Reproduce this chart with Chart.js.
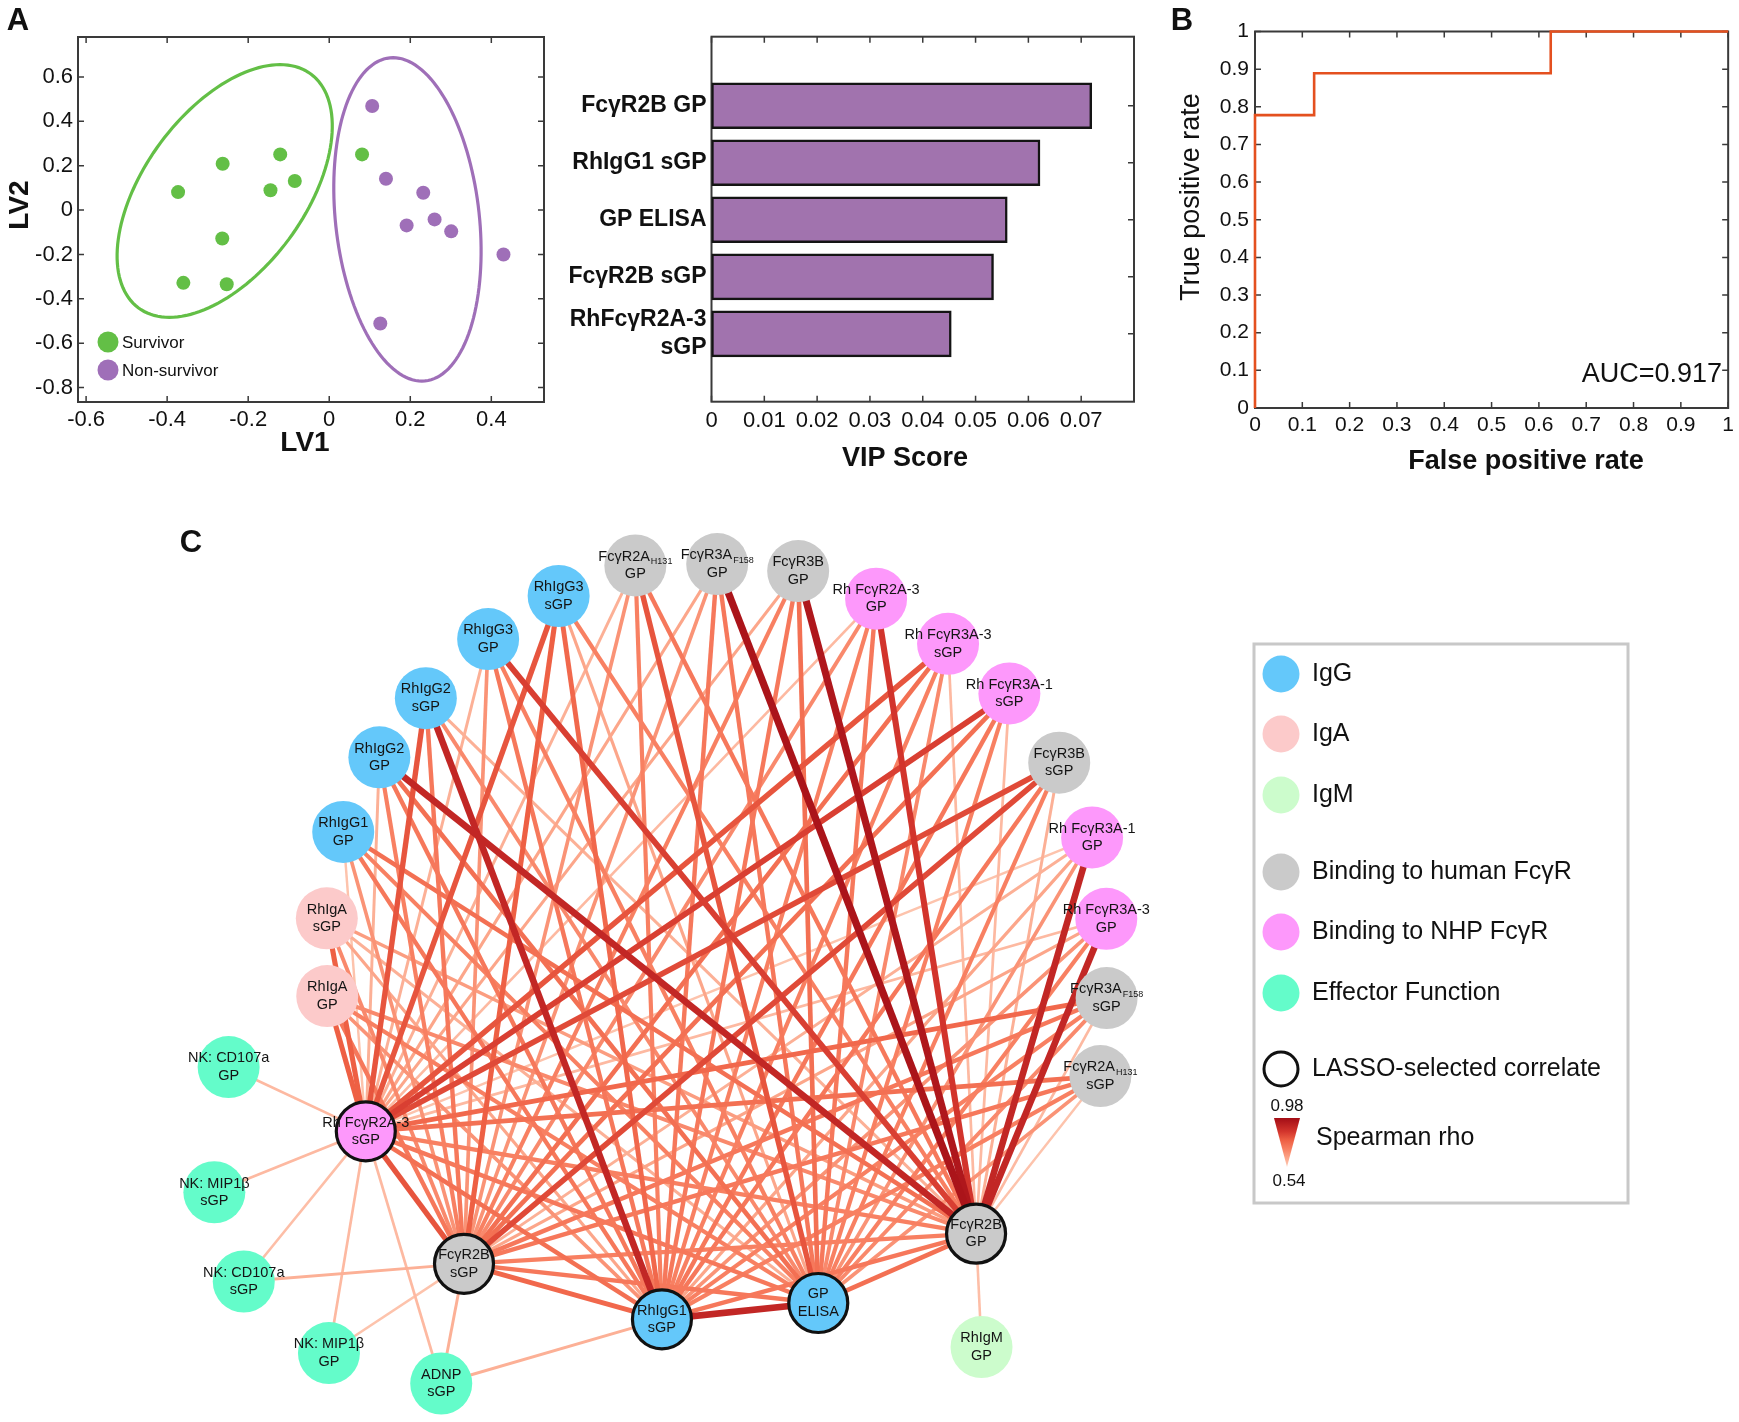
<!DOCTYPE html>
<html>
<head>
<meta charset="utf-8">
<title>PLS-DA, VIP scores, ROC and correlation network</title>
<script src="https://cdn.jsdelivr.net/npm/chart.js@4.4.1/dist/chart.umd.min.js"></script>
<style>
  html, body { margin: 0; padding: 0; background: #fff; }
  #page { position: relative; width: 1739px; height: 1422px; overflow: hidden; background: #fff; }
  canvas { position: absolute; }
</style>
</head>
<body>
<div id="page">
  <canvas id="network" width="1739" height="952" style="left:0;top:470px"></canvas>
  <canvas id="scatter" width="560" height="490" style="left:0;top:0"></canvas>
  <canvas id="vip" width="600" height="490" style="left:560px;top:0"></canvas>
  <canvas id="roc" width="579" height="490" style="left:1160px;top:0"></canvas>
</div>
<script>
// ---- panel A: latent variable scores ----
const survivorLV1 = [-0.373, -0.263, -0.121, -0.145, -0.085, -0.264, -0.360, -0.253, 0.081];
const survivorLV2 = [0.081, 0.209, 0.251, 0.089, 0.131, -0.128, -0.328, -0.334, 0.251];
const nonSurvivorLV1 = [0.106, 0.140, 0.232, 0.191, 0.260, 0.301, 0.430, 0.126];
const nonSurvivorLV2 = [0.469, 0.141, 0.078, -0.069, -0.042, -0.096, -0.200, -0.511];
// confidence ellipses: centre plus two conjugate half-axes, in LV units
const survivorEllipse = { cx: -0.258, cy: 0.086, ux: 0.1366, uy: 0.5695, vx: 0.2277, vy: 0 };
const nonSurvivorEllipse = { cx: 0.193, cy: -0.042, ux: -0.0355, uy: 0.7288, vx: 0.1783, vy: 0 };
const lv1Ticks = [-0.6, -0.4, -0.2, 0, 0.2, 0.4];
const lv2Ticks = [0.6, 0.4, 0.2, 0, -0.2, -0.4, -0.6, -0.8];

// ---- panel A: VIP scores ----
const vipFeatures = ['FcγR2B GP', 'RhIgG1 sGP', 'GP ELISA', 'FcγR2B sGP', ['RhFcγR2A-3', 'sGP']];
const vipScores = [0.0720, 0.0622, 0.0560, 0.0534, 0.0454];
const vipTicks = [0, 0.01, 0.02, 0.03, 0.04, 0.05, 0.06, 0.07];

// ---- panel B: ROC ----
const rocFPR = [0, 0, 0.125, 0.125, 0.625, 0.625, 1];
const rocTPR = [0, 0.778, 0.778, 0.889, 0.889, 1, 1];
const rocTicks = [0, 0.1, 0.2, 0.3, 0.4, 0.5, 0.6, 0.7, 0.8, 0.9, 1];
const aucText = 'AUC=0.917';

// ---- panel C: correlation network ----
// '|' splits lines, '_' starts a subscript
const ringNodes = ['RhIgA|GP', 'RhIgA|sGP', 'RhIgG1|GP', 'RhIgG2|GP', 'RhIgG2|sGP', 'RhIgG3|GP', 'RhIgG3|sGP',
  'FcγR2A_H131|GP', 'FcγR3A_F158|GP', 'FcγR3B|GP', 'Rh FcγR2A-3|GP', 'Rh FcγR3A-3|sGP', 'Rh FcγR3A-1|sGP',
  'FcγR3B|sGP', 'Rh FcγR3A-1|GP', 'Rh FcγR3A-3|GP', 'FcγR3A_F158|sGP', 'FcγR2A_H131|sGP'];
const ringGroups = ['IgA', 'IgA', 'IgG', 'IgG', 'IgG', 'IgG', 'IgG', 'human', 'human', 'human', 'NHP', 'NHP', 'NHP',
  'human', 'NHP', 'NHP', 'human', 'human'];
const hubNodes = ['FcγR2B|GP', 'GP|ELISA', 'RhIgG1|sGP', 'FcγR2B|sGP', 'Rh FcγR2A-3|sGP'];
const hubGroups = ['human', 'IgG', 'IgG', 'human', 'NHP'];
const outerNodes = ['NK: CD107a|GP', 'NK: MIP1β|sGP', 'NK: CD107a|sGP', 'NK: MIP1β|GP', 'ADNP|sGP', 'RhIgM|GP'];
const outerGroups = ['effector', 'effector', 'effector', 'effector', 'effector', 'IgM'];

// Spearman rho, ring node x hub (hub order as hubNodes)
const ringToHubRho = [
  [0.68, 0.70, 0.66, 0.72, 0.78],
  [0.64, 0.60, 0.62, 0.68, 0.78],
  [0.74, 0.70, 0.72, 0.66, 0.56],
  [0.90, 0.74, 0.72, 0.70, 0.60],
  [0.60, 0.68, 0.90, 0.72, 0.80],
  [0.84, 0.70, 0.72, 0.66, 0.60],
  [0.70, 0.62, 0.76, 0.78, 0.80],
  [0.72, 0.80, 0.70, 0.66, 0.60],
  [0.96, 0.72, 0.72, 0.66, 0.62],
  [0.95, 0.74, 0.72, 0.70, 0.62],
  [0.86, 0.72, 0.70, 0.68, 0.58],
  [0.58, 0.68, 0.70, 0.74, 0.80],
  [0.58, 0.70, 0.72, 0.74, 0.84],
  [0.60, 0.70, 0.72, 0.82, 0.82],
  [0.90, 0.66, 0.62, 0.60, 0.56],
  [0.90, 0.70, 0.66, 0.62, 0.58],
  [0.58, 0.68, 0.70, 0.72, 0.76],
  [0.56, 0.66, 0.70, 0.72, 0.74]
];
const hubPairs = [[0, 1], [0, 2], [0, 3], [0, 4], [1, 2], [1, 3], [1, 4], [2, 3], [2, 4], [3, 4]];
const hubPairRho = [0.74, 0.72, 0.70, 0.70, 0.90, 0.72, 0.72, 0.76, 0.74, 0.80];
const outerLinkFrom = [0, 1, 2, 2, 3, 3, 4, 4, 4, 5];
const outerLinkTo = [4, 4, 4, 3, 4, 3, 4, 3, 2, 0];
const outerLinkRho = [0.58, 0.58, 0.57, 0.60, 0.58, 0.56, 0.58, 0.60, 0.60, 0.57];

const legendLabels = ['IgG', 'IgA', 'IgM', 'Binding to human FcγR', 'Binding to NHP FcγR', 'Effector Function', 'LASSO-selected correlate'];
const legendGroups = ['IgG', 'IgA', 'IgM', 'human', 'NHP', 'effector', 'lasso'];
const rhoMin = 0.54, rhoMax = 0.98;

// ---- styling / layout ----
const FONT = '"Liberation Sans", Arial, Helvetica, sans-serif';
const GREEN = '#63bf46', PURPLE = '#9f6fb8', BAR = '#a173ae', ROC_RED = '#e4501f', FRAME = '#3a3a3a';
const groupColor = { IgG: '#64c8fa', IgA: '#fccaca', IgM: '#ccfccc', human: '#cacaca', NHP: '#fd98fb', effector: '#64fcca', lasso: '#ffffff' };
// node placement (degrees counter-clockwise from 3 o'clock, radius in px from the ring centre)
const ringAngles = [184.6, 173.1, 160.2, 148.1, 137.1, 124.6, 112.7, 101.0, 89.4, 77.8, 66.0, 53.8, 42.5, 30.3, 18.6, 6.7, -4.8, -16.0];
const ringRadii = [387, 389, 393, 393, 392, 396, 400, 407, 401, 403, 401, 398, 402, 401, 400, 396, 395, 403];
const hubAngles = [-45.6, -72.7, -98.2, -129.8, -154.4];
const hubRadii = [376, 354, 358, 389, 385];
const outerAngles = [191.9, 204.5, 214, 225.3, 237, 305.1];
const outerRadii = [495, 548, 566, 546, 499, 467];
const rhoStops = [[0.54, [253, 204, 184]], [0.62, [252, 166, 138]], [0.70, [248, 128, 98]],
  [0.78, [238, 96, 68]], [0.86, [210, 52, 44]], [0.98, [163, 13, 22]]];

Chart.defaults.font.family = FONT;
Chart.defaults.color = '#111';

const fmt = v => String(+v.toFixed(3));

function linearAxis(min, max, ticks, size, padding, fit) {
  return {
    type: 'linear', min, max, offset: false,
    afterBuildTicks: s => { s.ticks = ticks.map(v => ({ value: v })); },
    afterFit: fit,
    grid: { display: false, drawTicks: false },
    border: { display: false },
    ticks: { font: { size, family: FONT }, color: '#111', padding, autoSkip: false, maxRotation: 0, minRotation: 0, callback: v => fmt(v) }
  };
}

function baseOptions(padding) {
  return {
    responsive: false, animation: false, devicePixelRatio: 1, events: [],
    layout: { padding, autoPadding: false },
    plugins: { legend: { display: false }, tooltip: { enabled: false } }
  };
}

function drawText(ctx, str, x, y, font, align, rot) {
  ctx.save();
  ctx.translate(x, y);
  if (rot) ctx.rotate(rot);
  ctx.font = font;
  ctx.fillStyle = '#111';
  ctx.textAlign = align || 'center';
  ctx.textBaseline = 'middle';
  ctx.fillText(str, 0, 0);
  ctx.restore();
}

const framePlugin = {
  id: 'frame',
  beforeDatasetsDraw(chart) {
    const { ctx, chartArea: a } = chart;
    const xs = chart.scales.x, ys = chart.scales.y;
    ctx.save();
    ctx.strokeStyle = FRAME;
    ctx.lineWidth = 1.5;
    ctx.beginPath();
    xs.ticks.forEach(t => {
      const p = xs.getPixelForValue(t.value);
      ctx.moveTo(p, a.bottom); ctx.lineTo(p, a.bottom - 6);
      ctx.moveTo(p, a.top); ctx.lineTo(p, a.top + 6);
    });
    ys.ticks.forEach(t => {
      const p = ys.getPixelForValue(t.value);
      ctx.moveTo(a.left, p); ctx.lineTo(a.left + 6, p);
      ctx.moveTo(a.right, p); ctx.lineTo(a.right - 6, p);
    });
    ctx.stroke();
    ctx.lineWidth = 2;
    ctx.strokeRect(a.left, a.top, a.right - a.left, a.bottom - a.top);
    ctx.restore();
  }
};

// ---------- Panel A: scatter ----------
function strokeEllipse(chart, e, color) {
  const { ctx, scales: { x, y } } = chart;
  ctx.save();
  ctx.strokeStyle = color;
  ctx.lineWidth = 3.2;
  ctx.beginPath();
  for (let k = 0; k <= 144; k++) {
    const t = k / 144 * 2 * Math.PI;
    const px = x.getPixelForValue(e.cx + e.ux * Math.cos(t) + e.vx * Math.sin(t));
    const py = y.getPixelForValue(e.cy + e.uy * Math.cos(t) + e.vy * Math.sin(t));
    if (k) ctx.lineTo(px, py); else ctx.moveTo(px, py);
  }
  ctx.closePath();
  ctx.stroke();
  ctx.restore();
}

const scatterExtras = {
  id: 'scatterExtras',
  beforeDatasetsDraw(chart) {
    strokeEllipse(chart, survivorEllipse, GREEN);
    strokeEllipse(chart, nonSurvivorEllipse, PURPLE);
  },
  afterDraw(chart) {
    const { ctx, chartArea: a } = chart;
    [['Survivor', GREEN], ['Non-survivor', PURPLE]].forEach(([lab, col], i) => {
      const cy = a.bottom - 60 + i * 28;
      ctx.save();
      ctx.fillStyle = col;
      ctx.beginPath(); ctx.arc(a.left + 30, cy, 10.5, 0, 2 * Math.PI); ctx.fill();
      ctx.restore();
      drawText(ctx, lab, a.left + 44, cy + 1, `17px ${FONT}`, 'left');
    });
    drawText(ctx, 'LV1', 305, 443, `bold 28px ${FONT}`);
    drawText(ctx, 'LV2', 20, 205, `bold 28px ${FONT}`, 'center', -Math.PI / 2);
    drawText(ctx, 'A', 18, 21, `bold 31px ${FONT}`);
  }
};

new Chart(document.getElementById('scatter'), {
  type: 'scatter',
  data: {
    datasets: [
      { label: 'Survivor', data: survivorLV1.map((v, i) => ({ x: v, y: survivorLV2[i] })),
        pointBackgroundColor: GREEN, pointBorderWidth: 0, pointRadius: 7 },
      { label: 'Non-survivor', data: nonSurvivorLV1.map((v, i) => ({ x: v, y: nonSurvivorLV2[i] })),
        pointBackgroundColor: PURPLE, pointBorderWidth: 0, pointRadius: 7 }
    ]
  },
  options: Object.assign(baseOptions({ top: 37, right: 16, left: 0, bottom: 0 }), {
    scales: {
      x: linearAxis(-0.62, 0.53, lv1Ticks, 22, 5, s => { s.height = 88; }),
      y: linearAxis(-0.865, 0.78, lv2Ticks, 22, 5, s => { s.width = 78; })
    }
  }),
  plugins: [framePlugin, scatterExtras]
});

// ---------- Panel A: VIP bars ----------
const vipExtras = {
  id: 'vipExtras',
  afterDraw(chart) {
    drawText(chart.ctx, 'VIP Score', 345, 459, `bold 27px ${FONT}`);
  }
};

const vipY = {
  type: 'linear', reverse: true, min: -0.21, max: 6.19, offset: false,
  afterBuildTicks: s => { s.ticks = vipFeatures.map((f, i) => ({ value: i + 1 })); },
  afterFit: s => { s.width = 151.5; },
  grid: { display: false, drawTicks: false, offset: false },
  border: { display: false },
  ticks: { font: { size: 23, weight: 'bold', family: FONT }, color: '#111', padding: 5, autoSkip: false,
    callback: v => vipFeatures[Math.round(v) - 1] }
};

new Chart(document.getElementById('vip'), {
  type: 'bar',
  data: {
    datasets: [{
      data: vipScores.map((v, i) => ({ x: v, y: i + 1 })),
      backgroundColor: BAR, borderColor: '#141414', borderWidth: 2.5, borderSkipped: false, barThickness: 46
    }]
  },
  options: Object.assign(baseOptions({ top: 36.7, right: 26, left: 0, bottom: 0 }), {
    indexAxis: 'y',
    scales: {
      x: linearAxis(0, 0.08, vipTicks, 22, 6, s => { s.height = 88.3; }),
      y: vipY
    }
  }),
  plugins: [framePlugin, vipExtras]
});

// ---------- Panel B: ROC ----------
const rocExtras = {
  id: 'rocExtras',
  afterDraw(chart) {
    const ctx = chart.ctx;
    drawText(ctx, 'B', 22, 21, `bold 31px ${FONT}`);
    drawText(ctx, 'True positive rate', 32, 197, `27px ${FONT}`, 'center', -Math.PI / 2);
    drawText(ctx, 'False positive rate', 366, 462, `bold 27px ${FONT}`);
    drawText(ctx, aucText, 562, 375, `27px ${FONT}`, 'right');
  }
};

new Chart(document.getElementById('roc'), {
  type: 'scatter',
  data: {
    datasets: [{
      data: rocFPR.map((v, i) => ({ x: v, y: rocTPR[i] })),
      showLine: true, borderColor: ROC_RED, borderWidth: 2.6, pointRadius: 0, clip: false, tension: 0
    }]
  },
  options: Object.assign(baseOptions({ top: 31.5, right: 5, left: 0, bottom: 0 }), {
    scales: {
      x: linearAxis(0, 1, rocTicks, 21, 5, s => { s.height = 82; }),
      y: linearAxis(0, 1, rocTicks, 21, 6, s => { s.width = 95; })
    }
  }),
  plugins: [framePlugin, rocExtras]
});

// ---------- Panel C: network ----------
function polar(angleDeg, r) {
  const t = angleDeg * Math.PI / 180;
  return { x: r * Math.cos(t), y: r * Math.sin(t) };
}

function rhoColor(rho) {
  let c = rhoStops[rhoStops.length - 1][1];
  for (let k = 0; k < rhoStops.length - 1; k++) {
    const [r0, c0] = rhoStops[k], [r1, c1] = rhoStops[k + 1];
    if (rho <= r1) {
      const f = Math.max(0, (rho - r0) / (r1 - r0));
      c = c0.map((v, j) => Math.round(v + (c1[j] - v) * f));
      break;
    }
  }
  return `rgb(${c[0]},${c[1]},${c[2]})`;
}
const rhoWidth = rho => 2.2 + (rho - rhoMin) / (rhoMax - rhoMin) * 5.4;

const ringPos = ringNodes.map((n, i) => polar(ringAngles[i], ringRadii[i]));
const hubPos = hubNodes.map((n, i) => polar(hubAngles[i], hubRadii[i]));
const outerPos = outerNodes.map((n, i) => polar(outerAngles[i], outerRadii[i]));

const nodes = [
  ...ringNodes.map((l, i) => ({ label: l, group: ringGroups[i], ...ringPos[i], lasso: false })),
  ...hubNodes.map((l, i) => ({ label: l, group: hubGroups[i], ...hubPos[i], lasso: true })),
  ...outerNodes.map((l, i) => ({ label: l, group: outerGroups[i], ...outerPos[i], lasso: false }))
];

const edges = [];
ringToHubRho.forEach((row, i) => row.forEach((rho, j) => {
  if (rho != null) edges.push({ a: ringPos[i], b: hubPos[j], rho });
}));
hubPairs.forEach(([i, j], k) => edges.push({ a: hubPos[i], b: hubPos[j], rho: hubPairRho[k] }));
outerLinkFrom.forEach((i, k) => edges.push({ a: outerPos[i], b: hubPos[outerLinkTo[k]], rho: outerLinkRho[k] }));
// strongest first so that Chart.js paints them on top
edges.sort((p, q) => q.rho - p.rho);

const edgeDatasets = edges.map(e => ({
  data: [{ x: e.a.x, y: e.a.y }, { x: e.b.x, y: e.b.y }],
  showLine: true, pointRadius: 0, borderColor: rhoColor(e.rho), borderWidth: rhoWidth(e.rho), clip: false
}));

const nodeDataset = {
  data: nodes.map(n => ({ x: n.x, y: n.y })),
  pointRadius: nodes.map(n => n.lasso ? 29.5 : 31),
  pointBackgroundColor: nodes.map(n => groupColor[n.group]),
  pointBorderColor: nodes.map(n => n.lasso ? '#111' : 'rgba(0,0,0,0)'),
  pointBorderWidth: nodes.map(n => n.lasso ? 3.2 : 0),
  clip: false
};

function drawNodeLabel(ctx, x, y, label) {
  const lines = label.split('|');
  const lh = 17.5;
  lines.forEach((ln, i) => {
    const yy = y + (i - (lines.length - 1) / 2) * lh;
    const [main, sub] = ln.split('_');
    ctx.font = `14.5px ${FONT}`;
    const wm = ctx.measureText(main).width;
    let ws = 0;
    if (sub) { ctx.font = `9px ${FONT}`; ws = ctx.measureText(sub).width + 1; }
    const x0 = x - (wm + ws) / 2;
    ctx.fillStyle = '#141414';
    ctx.textAlign = 'left';
    ctx.textBaseline = 'middle';
    ctx.font = `14.5px ${FONT}`;
    ctx.fillText(main, x0, yy);
    if (sub) { ctx.font = `9px ${FONT}`; ctx.fillText(sub, x0 + wm + 1, yy + 5); }
  });
}

const networkExtras = {
  id: 'networkExtras',
  afterDatasetsDraw(chart) {
    const { ctx, scales: { x, y } } = chart;
    ctx.save();
    nodes.forEach(n => drawNodeLabel(ctx, x.getPixelForValue(n.x), y.getPixelForValue(n.y), n.label));
    ctx.restore();
  },
  afterDraw(chart) {
    const ctx = chart.ctx;
    const OY = 470;
    drawText(ctx, 'C', 191, 543 - OY, `bold 31px ${FONT}`);
    // legend box
    ctx.save();
    ctx.strokeStyle = '#c8c8c8';
    ctx.lineWidth = 3;
    ctx.strokeRect(1254, 644 - OY, 374, 559);
    const rows = [674, 734, 795, 872, 932, 993, 1069];
    legendLabels.forEach((lab, i) => {
      const cy = rows[i] - OY;
      ctx.beginPath();
      ctx.arc(1281, cy, legendGroups[i] === 'lasso' ? 17 : 18.5, 0, 2 * Math.PI);
      ctx.fillStyle = groupColor[legendGroups[i]];
      ctx.fill();
      if (legendGroups[i] === 'lasso') { ctx.lineWidth = 3; ctx.strokeStyle = '#111'; ctx.stroke(); }
      drawText(ctx, lab, 1312, cy, `25px ${FONT}`, 'left');
    });
    // rho colour triangle
    const top = 1118 - OY, apex = 1167 - OY;
    const g = ctx.createLinearGradient(0, top, 0, apex);
    rhoStops.forEach(([r]) => g.addColorStop((rhoMax - r) / (rhoMax - rhoMin), rhoColor(r)));
    ctx.beginPath();
    ctx.moveTo(1274, top); ctx.lineTo(1300, top); ctx.lineTo(1287, apex); ctx.closePath();
    ctx.fillStyle = g;
    ctx.fill();
    ctx.restore();
    drawText(ctx, String(rhoMax), 1287, 1106 - OY, `17px ${FONT}`);
    drawText(ctx, String(rhoMin), 1289, 1181 - OY, `17px ${FONT}`);
    drawText(ctx, 'Spearman rho', 1316, 1138 - OY, `25px ${FONT}`, 'left');
  }
};

new Chart(document.getElementById('network'), {
  type: 'scatter',
  data: { datasets: [nodeDataset, ...edgeDatasets] },
  options: Object.assign(baseOptions(0), {
    scales: {
      x: { type: 'linear', display: false, min: -713, max: 1026 },
      y: { type: 'linear', display: false, min: -457, max: 495 }
    }
  }),
  plugins: [networkExtras]
});
</script>
</body>
</html>
